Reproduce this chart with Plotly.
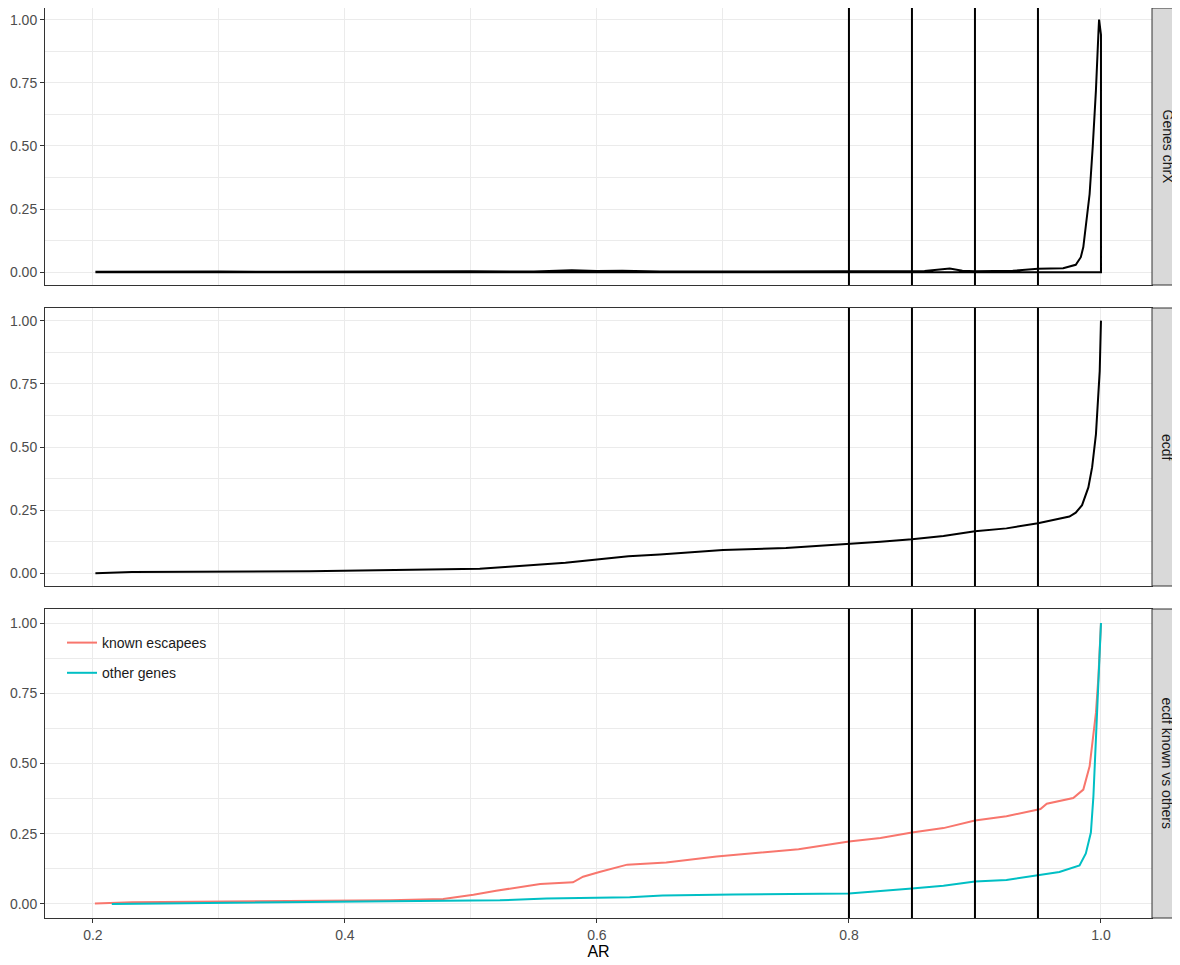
import plotly.graph_objects as go

# ---------------- data ----------------
thresholds = [0.8, 0.85, 0.9, 0.95]
facet_labels = ["Genes chrX", "ecdf", "ecdf known vs others"]

dens_x = [0.202, 0.23, 0.25, 0.3, 0.35, 0.4, 0.45, 0.48, 0.5, 0.55, 0.58, 0.6, 0.62,
          0.65, 0.7, 0.75, 0.78, 0.8, 0.83, 0.86, 0.88, 0.89, 0.9, 0.93, 0.95, 0.97,
          0.98, 0.984, 0.986, 0.988, 0.991, 0.9935, 0.996, 0.998, 0.9985, 1.0]
dens_y = [0.002, 0.003, 0.002, 0.003, 0.002, 0.003, 0.004, 0.006, 0.004, 0.003, 0.008,
          0.005, 0.006, 0.003, 0.004, 0.003, 0.005, 0.003, 0.004, 0.005, 0.015, 0.006,
          0.004, 0.006, 0.014, 0.016, 0.03, 0.06, 0.1, 0.18, 0.31, 0.5, 0.72, 0.95,
          1.0, 0.94]

ecdf_x = [0.202, 0.231, 0.372, 0.454, 0.507, 0.53, 0.55, 0.575, 0.6, 0.625, 0.65, 0.7,
          0.75, 0.8, 0.825, 0.85, 0.875, 0.9, 0.925, 0.95, 0.967, 0.975, 0.98, 0.985,
          0.99, 0.993, 0.996, 0.998, 0.999, 1.0]
ecdf_y = [0.0, 0.005, 0.008, 0.014, 0.018, 0.026, 0.034, 0.042, 0.055, 0.068, 0.075,
          0.092, 0.1, 0.115, 0.125, 0.135, 0.148, 0.167, 0.178, 0.198, 0.215, 0.225,
          0.24, 0.27, 0.34, 0.42, 0.55, 0.7, 0.8, 1.0]

known_x = [0.2016, 0.231, 0.436, 0.478, 0.502, 0.52, 0.555, 0.581, 0.589, 0.602, 0.624,
           0.655, 0.695, 0.721, 0.76, 0.8, 0.825, 0.85, 0.875, 0.9, 0.925, 0.952, 0.957,
           0.978, 0.986, 0.991, 0.994, 0.996, 0.998, 1.0]
known_y = [0.002, 0.006, 0.013, 0.018, 0.033, 0.047, 0.071, 0.077, 0.097, 0.114, 0.14,
           0.148, 0.169, 0.18, 0.195, 0.222, 0.235, 0.254, 0.27, 0.297, 0.312, 0.338,
           0.357, 0.377, 0.407, 0.49, 0.597, 0.68, 0.81, 1.0]

other_x = [0.215, 0.307, 0.372, 0.523, 0.56, 0.626, 0.652, 0.708, 0.8, 0.825, 0.85,
           0.875, 0.9, 0.925, 0.952, 0.967, 0.983, 0.988, 0.992, 0.994, 0.9955, 0.997,
           0.999, 1.0]
other_y = [0.0, 0.004, 0.009, 0.013, 0.019, 0.024, 0.03, 0.034, 0.037, 0.045, 0.055,
           0.065, 0.08, 0.085, 0.104, 0.114, 0.137, 0.18, 0.254, 0.383, 0.537, 0.68,
           0.85, 1.0]

x_ticks = [0.2, 0.4, 0.6, 0.8, 1.0]
y_ticks = [0.0, 0.25, 0.5, 0.75, 1.0]

# ---------------- layout geometry ----------------
OFF = 8                     # page body margin offset
W, H = 1180 - OFF, 965 - OFF
x0, x1 = 45 - OFF, 1152 - OFF
panels_px = [(0, 285 - OFF), (308 - OFF, 586 - OFF), (609 - OFF, 918 - OFF)]

FONT = "Liberation Sans"
GRID = "#EBEBEB"
BORDER = "#333333"

fig = go.Figure()

top_x = dens_x + [dens_x[-1], dens_x[0]]
top_y = dens_y + [0, 0]
fig.add_trace(go.Scatter(x=top_x, y=top_y, mode="lines", line=dict(color="black", width=2),
                         showlegend=False, xaxis="x", yaxis="y", hoverinfo="skip"))
fig.add_trace(go.Scatter(x=ecdf_x, y=ecdf_y, mode="lines", line=dict(color="black", width=2),
                         showlegend=False, xaxis="x2", yaxis="y2"))
fig.add_trace(go.Scatter(x=known_x, y=known_y, mode="lines", name="known escapees",
                         line=dict(color="#F8766D", width=2), legendgroup="a",
                         xaxis="x3", yaxis="y3"))
fig.add_trace(go.Scatter(x=other_x, y=other_y, mode="lines", name="other genes",
                         line=dict(color="#00BFC4", width=2), legendgroup="b",
                         xaxis="x3", yaxis="y3"))

xr = [0.162, 1.0405]
yr_top = [-0.05, 1.046]
yr = [-0.05, 1.05]

layout = dict(width=W, height=H, margin=dict(l=0, r=0, t=0, b=0, autoexpand=False),
              paper_bgcolor="white", plot_bgcolor="white",
              font=dict(family=FONT, size=14, color="#4D4D4D"),
              legend=dict(x=(62 - OFF) / W, y=1 - (627 - OFF) / H, xanchor="left", yanchor="top",
                          bgcolor="rgba(255,255,255,0)", borderwidth=0, tracegroupgap=9,
                          itemwidth=30,
                          font=dict(family=FONT, size=14, color="#1A1A1A")),
              shapes=[], annotations=[])

# white legend background box (covers gridlines like the ggplot legend box)
layout["shapes"].append(dict(type="rect", xref="paper", yref="paper",
                             x0=(55 - OFF) / W, x1=(217 - OFF) / W,
                             y0=1 - (696 - OFF) / H, y1=1 - (611 - OFF) / H,
                             fillcolor="white", line=dict(width=0), layer="between"))

for i, (pt, pb) in enumerate(panels_px):
    sfx = "" if i == 0 else str(i + 1)
    bottom = (i == 2)
    layout["xaxis" + sfx] = dict(
        domain=[x0 / W, x1 / W], range=xr, anchor="y" + sfx, automargin=False,
        tickvals=x_ticks, ticktext=[f"{v:.1f}" for v in x_ticks],
        showticklabels=bottom, ticks="outside" if bottom else "", ticklen=4,
        tickcolor=BORDER, tickwidth=1,
        showgrid=True, gridcolor=GRID, gridwidth=1.3,
        minor=dict(dtick=0.1, tick0=0.0, showgrid=True, gridcolor=GRID, gridwidth=0.6),
        showline=True, linecolor=BORDER, linewidth=1, mirror=True, zeroline=False,
        tickfont=dict(family=FONT, size=14, color="#4D4D4D"),
        title=dict(text="AR", font=dict(family=FONT, size=16, color="black"), standoff=2) if bottom else None,
    )
    layout["yaxis" + sfx] = dict(
        domain=[1 - pb / H, 1 - pt / H], range=(yr_top if i == 0 else yr), anchor="x" + sfx,
        automargin=False,
        tickvals=y_ticks, ticktext=[f"{v:.2f}" for v in y_ticks],
        ticks="outside", ticklen=4, tickcolor=BORDER, tickwidth=1,
        showgrid=True, gridcolor=GRID, gridwidth=1.3,
        minor=dict(dtick=0.125, tick0=0.0, showgrid=True, gridcolor=GRID, gridwidth=0.6),
        showline=True, linecolor=BORDER, linewidth=1, mirror=True, zeroline=False,
        tickfont=dict(family=FONT, size=14, color="#4D4D4D"),
    )
    for t in thresholds:
        layout["shapes"].append(dict(type="line", xref="x" + sfx, yref="y" + sfx + " domain",
                                     x0=t, x1=t, y0=0, y1=1,
                                     line=dict(color="black", width=2), layer="above"))
    layout["shapes"].append(dict(type="rect", xref="paper", yref="paper",
                                 x0=x1 / W, x1=1.02, y0=1 - pb / H, y1=1 - pt / H,
                                 fillcolor="#D9D9D9", line=dict(color=BORDER, width=1)))
    layout["annotations"].append(dict(text=facet_labels[i], xref="paper", yref="paper",
                                      x=(1167 - OFF) / W, y=1 - (pt + pb) / 2 / H, textangle=90,
                                      showarrow=False, xanchor="center", yanchor="middle",
                                      font=dict(family=FONT, size=14, color="#1A1A1A")))

fig.update_layout(**layout)
fig.write_html("out.html")
